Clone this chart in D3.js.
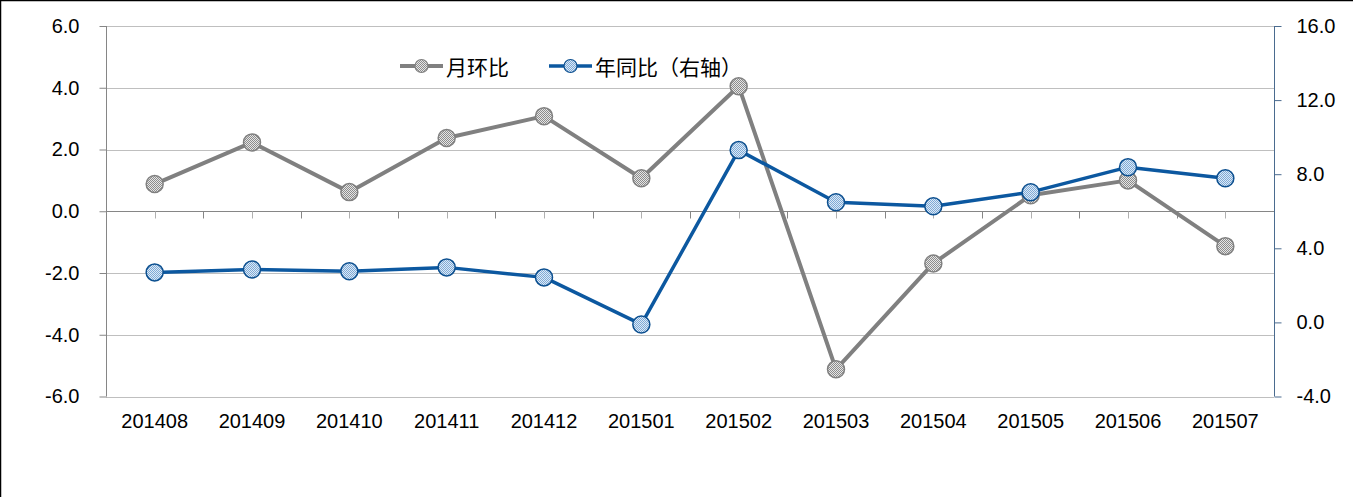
<!DOCTYPE html>
<html><head><meta charset="utf-8">
<script src="https://cdn.jsdelivr.net/npm/d3@7/dist/d3.min.js"></script>
<style>html,body{margin:0;padding:0;background:#fff;}svg{display:block;}</style>
</head><body>
<svg id="c" width="1353" height="497"></svg>
<script>
const categories = ["201408","201409","201410","201411","201412","201501","201502","201503","201504","201505","201506","201507"];
const momValues = [0.88, 2.23, 0.62, 2.37, 3.08, 1.07, 4.05, -5.12, -1.69, 0.52, 1.0, -1.13];
const yoyValues = [2.7, 2.86, 2.76, 2.97, 2.43, -0.11, 9.3, 6.49, 6.27, 7.03, 8.38, 7.78];
const leftTicks = [-6, -4, -2, 0, 2, 4, 6];
const rightTicks = [-4, 0, 4, 8, 12, 16];
const seriesNames = ["月环比", "年同比（右轴）"];

const svg = d3.select("#c");
const L = 106, R = 1274, T = 26, B = 396.5;
const FONT = "Liberation Sans, Arial, sans-serif";
const fmt = d => d.toFixed(1);
const x = d3.scaleBand().domain(categories).range([L, R]);
const yL = d3.scaleLinear().domain([-6, 6]).range([B, T]);
const yR = d3.scaleLinear().domain([-4, 16]).range([B, T]);

// patterns
const defs = svg.append("defs");
function pat(id, c1, c2) {
  const p = defs.append("pattern").attr("id", id).attr("width", 2).attr("height", 2).attr("patternUnits", "userSpaceOnUse");
  p.append("rect").attr("width", 2).attr("height", 2).attr("fill", c2);
  p.append("rect").attr("width", 1).attr("height", 1).attr("fill", c1);
  p.append("rect").attr("x", 1).attr("y", 1).attr("width", 1).attr("height", 1).attr("fill", c1);
}
pat("pg", "#8c8c8c", "#e6e6e6");
pat("pb", "#7fa9d6", "#dceaf6");

// frame (top and left edge)
svg.append("line").attr("x1", 0).attr("x2", 1353).attr("y1", 0.5).attr("y2", 0.5).attr("stroke", "#000").attr("stroke-width", 1.5);
svg.append("line").attr("x1", 0.5).attr("x2", 0.5).attr("y1", 0).attr("y2", 497).attr("stroke", "#000").attr("stroke-width", 1.5);

// gridlines
svg.append("g").selectAll("line").data(leftTicks.filter(d => d !== 0)).join("line")
  .attr("x1", L).attr("x2", R).attr("y1", d => Math.round(yL(d)) + 0.5).attr("y2", d => Math.round(yL(d)) + 0.5)
  .attr("stroke", "#bfbfbf").attr("stroke-width", 1);

// category axis at zero
const zeroY = Math.round(yL(0)) + 0.5;
svg.append("line").attr("x1", L).attr("x2", R).attr("y1", zeroY).attr("y2", zeroY).attr("stroke", "#868686").attr("stroke-width", 1.2);
svg.append("g").selectAll("line").data(d3.range(categories.length * 2 + 1)).join("line")
  .attr("x1", i => Math.round(L + i * x.step() / 2) + 0.5).attr("x2", i => Math.round(L + i * x.step() / 2) + 0.5)
  .attr("y1", zeroY).attr("y2", zeroY + 7).attr("stroke", i => i % 2 ? "#b0b0b0" : "#868686");

// left axis
const gL = svg.append("g").attr("transform", `translate(${L + 0.5},0)`)
  .call(d3.axisLeft(yL).tickValues(leftTicks).tickFormat(fmt).tickSize(7).tickPadding(20));
gL.select(".domain").attr("stroke", "#868686").attr("d", `M0,${T}V${B}`);
gL.selectAll(".tick line").attr("stroke", "#868686");
gL.selectAll(".tick text").attr("font-family", FONT).attr("font-size", 20).attr("fill", "#000");

// right axis
const gR = svg.append("g").attr("transform", `translate(${R + 0.5},0)`)
  .call(d3.axisRight(yR).tickValues(rightTicks).tickFormat(fmt).tickSize(7).tickPadding(15));
gR.select(".domain").attr("stroke", "#4a6b8f").attr("d", `M0,${T}V${B}`);
gR.selectAll(".tick line").attr("stroke", "#4a6b8f");
gR.selectAll(".tick text").attr("font-family", FONT).attr("font-size", 20).attr("fill", "#000");

// category labels
svg.append("g").selectAll("text").data(categories).join("text")
  .attr("x", d => x(d) + x.bandwidth() / 2).attr("y", 428).attr("text-anchor", "middle")
  .attr("font-family", FONT).attr("font-size", 20).attr("fill", "#000").text(d => d);

const cx = d => x(d) + x.bandwidth() / 2;

const momData = categories.map((c, i) => ({c, v: momValues[i]}));
const yoyData = categories.map((c, i) => ({c, v: yoyValues[i]}));

// series gray (left axis)
svg.append("path").datum(momData).attr("fill", "none").attr("stroke", "#808080").attr("stroke-width", 4).attr("stroke-linejoin", "round")
  .attr("d", d3.line().x(d => cx(d.c)).y(d => yL(d.v)));
svg.append("g").selectAll("circle").data(momData).join("circle")
  .attr("cx", d => cx(d.c)).attr("cy", d => yL(d.v)).attr("r", 8.5)
  .attr("fill", "url(#pg)").attr("stroke", "#808080").attr("stroke-width", 1.5);

// series blue (right axis)
svg.append("path").datum(yoyData).attr("fill", "none").attr("stroke", "#0c58a0").attr("stroke-width", 3.5).attr("stroke-linejoin", "round")
  .attr("d", d3.line().x(d => cx(d.c)).y(d => yR(d.v)));
svg.append("g").selectAll("circle").data(yoyData).join("circle")
  .attr("cx", d => cx(d.c)).attr("cy", d => yR(d.v)).attr("r", 8.5)
  .attr("fill", "url(#pb)").attr("stroke", "#0c4f8f").attr("stroke-width", 1.5);

// legend
const leg = [
  {name: seriesNames[0], x: 400, line: "#808080", fill: "url(#pg)", stroke: "#808080", w: 4},
  {name: seriesNames[1], x: 549, line: "#0c58a0", fill: "url(#pb)", stroke: "#0c4f8f", w: 3.5}
];
const lg = svg.append("g").selectAll("g").data(leg).join("g").attr("transform", d => `translate(${d.x},66)`);
lg.append("line").attr("x1", 0).attr("x2", 43).attr("y1", 0).attr("y2", 0).attr("stroke", d => d.line).attr("stroke-width", d => d.w);
lg.append("circle").attr("cx", 21.5).attr("cy", 0).attr("r", 6.5).attr("fill", d => d.fill).attr("stroke", d => d.stroke).attr("stroke-width", 1.2);
lg.append("text").attr("x", 46).attr("y", 8.5).attr("font-family", "Noto Sans CJK SC, sans-serif").attr("font-size", 21).attr("fill", "#000").text(d => d.name);
</script>
</body></html>
